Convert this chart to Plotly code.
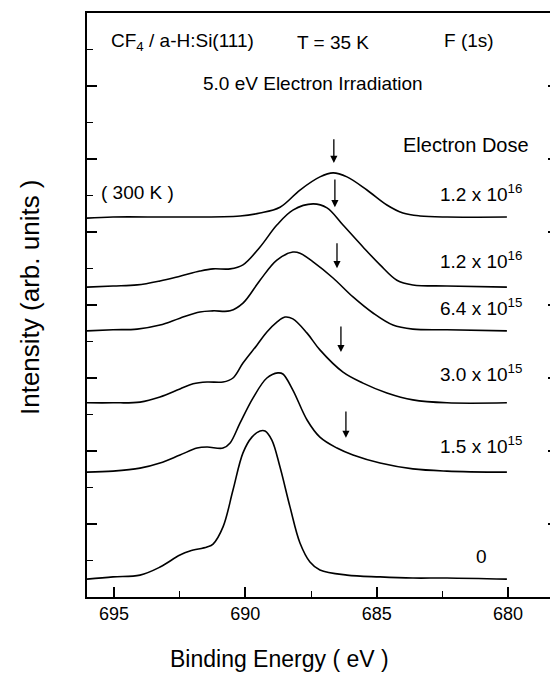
import plotly.graph_objects as go

# ---- data (binding energy in eV, intensity in arb. units, curves offset) ----
E_dose0 = [696.03, 695.04, 694.01, 693.25, 692.49, 692.11, 691.46, 691.23, 690.85, 690.47, 690.09,
           689.75, 689.44, 689.25, 688.99, 688.68, 688.30, 687.92, 687.54, 687.16, 686.13, 684.87,
           683.62, 682.32, 680.04]
I_dose0 = [0.49, 0.55, 0.60, 0.82, 1.15, 1.26, 1.37, 1.45, 1.92, 2.93, 3.95,
           4.38, 4.55, 4.55, 4.30, 3.56, 2.47, 1.48, 0.96, 0.74, 0.60, 0.55,
           0.52, 0.52, 0.49]

E_dose15a = [696.03, 695.04, 694.01, 693.25, 692.49, 691.84, 691.46, 690.85, 690.58, 690.20, 689.71,
             689.18, 688.76, 688.57, 688.19, 687.65, 687.16, 686.51, 685.90, 684.87, 683.62, 682.32, 680.04]
I_dose15a = [3.42, 3.45, 3.53, 3.67, 3.89, 4.08, 4.11, 4.08, 4.22, 4.77, 5.45,
             6.00, 6.14, 6.11, 5.67, 4.85, 4.38, 4.08, 3.89, 3.67, 3.51, 3.45, 3.42]

E_dose30 = [696.03, 695.04, 694.01, 693.25, 692.49, 691.99, 691.46, 690.85, 690.47, 690.09, 689.56,
            689.18, 688.80, 688.49, 688.19, 687.65, 687.16, 686.28, 685.52, 684.61, 683.62, 682.32, 680.04]
I_dose30 = [5.32, 5.32, 5.34, 5.48, 5.70, 5.84, 5.89, 5.89, 6.00, 6.41, 6.90,
            7.26, 7.53, 7.67, 7.62, 7.23, 6.77, 6.16, 5.86, 5.59, 5.40, 5.32, 5.32]

E_dose64 = [696.03, 695.04, 694.12, 693.25, 692.49, 691.73, 691.23, 690.58, 690.09, 689.44, 688.80,
            688.19, 687.92, 687.42, 686.66, 685.90, 685.14, 684.38, 683.62, 682.32, 680.04]
I_dose64 = [7.29, 7.32, 7.34, 7.45, 7.64, 7.81, 7.84, 7.84, 8.05, 8.68, 9.23,
            9.45, 9.42, 9.18, 8.74, 8.22, 7.78, 7.45, 7.34, 7.32, 7.29]

E_dose12 = [696.03, 695.04, 694.12, 693.25, 692.49, 691.73, 691.23, 690.58, 690.09, 689.44, 688.80,
            688.19, 687.42, 686.89, 686.28, 685.52, 684.87, 684.23, 683.62, 682.32, 680.04]
I_dose12 = [8.49, 8.52, 8.55, 8.66, 8.79, 8.93, 8.99, 8.99, 9.10, 9.59, 10.19,
            10.60, 10.77, 10.66, 10.19, 9.59, 9.10, 8.68, 8.55, 8.52, 8.49]

E_300K = [696.03, 695.04, 692.49, 690.20, 689.44, 688.68, 687.92, 687.16, 686.66, 686.13, 685.37,
          684.61, 684.00, 683.35, 682.32, 680.04]
I_300K = [10.38, 10.41, 10.41, 10.44, 10.52, 10.68, 11.15, 11.51, 11.62, 11.51, 11.15,
          10.74, 10.52, 10.44, 10.41, 10.41]

curves = [(E_dose0, I_dose0), (E_dose15a, I_dose15a), (E_dose30, I_dose30),
          (E_dose64, I_dose64), (E_dose12, I_dose12), (E_300K, I_300K)]

# dose labels (top to bottom) and their vertical positions
dose_labels = ["1.2 x 10<sup>16</sup>", "1.2 x 10<sup>16</sup>", "6.4 x 10<sup>15</sup>",
               "3.0 x 10<sup>15</sup>", "1.5 x 10<sup>15</sup>"]
dose_label_y = [11.07, 9.23, 7.95, 6.14, 4.16]
dose_label_E = 679.39

# arrows marking peak position
arrow_E = [686.63, 686.59, 686.51, 686.36, 686.17]
arrow_tail = [12.58, 11.48, 9.73, 7.45, 5.12]
arrow_tip = [11.89, 10.68, 9.01, 6.71, 4.36]

x_ticks = [695, 690, 685, 680]
y_range = [0, 16]

FONT = "Liberation Sans, Arial, sans-serif"

fig = go.Figure()
for E, I in curves:
    fig.add_trace(go.Scatter(x=E, y=I, mode="lines",
                             line=dict(color="black", width=1.6, shape="spline", smoothing=1.0),
                             showlegend=False, hoverinfo="skip"))
# empty trace so the right-hand tick axis is drawn
fig.add_trace(go.Scatter(x=[], y=[], yaxis="y2", showlegend=False, hoverinfo="skip"))

ann = []
for lab, yv in zip(dose_labels, dose_label_y):
    ann.append(dict(x=dose_label_E, y=yv, xref="x", yref="y", text=lab, showarrow=False,
                    xanchor="right", yanchor="middle", font=dict(size=19)))
ann.append(dict(x=680.99, y=1.10, xref="x", yref="y", text="0", showarrow=False,
                xanchor="center", yanchor="middle", font=dict(size=19)))
ann.append(dict(x=681.6, y=12.38, xref="x", yref="y", text="Electron Dose", showarrow=False,
                xanchor="center", yanchor="middle", font=dict(size=20)))
ann.append(dict(x=694.12, y=11.07, xref="x", yref="y", text="( 300 K )", showarrow=False,
                xanchor="center", yanchor="middle", font=dict(size=19)))

for xa, yt, yh in zip(arrow_E, arrow_tail, arrow_tip):
    ann.append(dict(x=xa, y=yh, ax=xa, ay=yt, xref="x", yref="y", axref="x", ayref="y",
                    text="", showarrow=True, arrowhead=2, arrowsize=1.1, arrowwidth=1.3,
                    arrowcolor="black", standoff=0, startstandoff=0))

ann.append(dict(x=0.2026, y=0.950, xref="paper", yref="paper", text="CF<sub>4</sub> / a-H:Si(111)",
                showarrow=False, xanchor="center", yanchor="middle", font=dict(size=19)))
ann.append(dict(x=0.5245, y=0.950, xref="paper", yref="paper", text="T = 35 K",
                showarrow=False, xanchor="center", yanchor="middle", font=dict(size=19)))
ann.append(dict(x=0.814, y=0.953, xref="paper", yref="paper", text="F (1s)",
                showarrow=False, xanchor="center", yanchor="middle", font=dict(size=19)))
ann.append(dict(x=0.482, y=0.880, xref="paper", yref="paper", text="5.0 eV Electron Irradiation",
                showarrow=False, xanchor="center", yanchor="middle", font=dict(size=19)))

# axis titles
ann.append(dict(x=0.4115, y=-0.107, xref="paper", yref="paper", text="Binding Energy ( eV )",
                showarrow=False, xanchor="center", yanchor="middle", font=dict(size=23)))
ann.append(dict(x=-0.1215, y=0.5137, xref="paper", yref="paper", text="Intensity (arb. units )",
                showarrow=False, xanchor="center", yanchor="middle", textangle=-90,
                font=dict(size=26)))

fig.update_layout(
    width=550, height=666,
    margin=dict(l=79, r=2, t=5, b=77),
    paper_bgcolor="white", plot_bgcolor="white",
    font=dict(family=FONT, color="black", size=19),
    annotations=ann,
    xaxis=dict(range=[696.03, 678.17], tickvals=x_ticks, ticktext=[str(v) for v in x_ticks],
               ticks="inside", ticklen=10, tickwidth=1.5, tickcolor="black",
               minor=dict(dtick=2.5, tick0=680, ticks="inside", ticklen=6, tickwidth=1.3, tickcolor="black"),
               showline=True, linecolor="black", linewidth=1.6, mirror=True,
               showgrid=False, zeroline=False, automargin=False,
               tickfont=dict(size=18)),
    yaxis=dict(range=y_range, dtick=2, tick0=0, showticklabels=False,
               ticks="inside", ticklen=10, tickwidth=1.5, tickcolor="black",
               minor=dict(dtick=1, tick0=0, ticks="inside", ticklen=6, tickwidth=1.3, tickcolor="black"),
               showline=True, linecolor="black", linewidth=1.6, mirror=True,
               showgrid=False, zeroline=False, automargin=False),
    yaxis2=dict(range=y_range, dtick=2, tick0=0, showticklabels=False, overlaying="y", side="right",
                anchor="x", ticks="inside", ticklen=8, tickwidth=1.5, tickcolor="black",
                minor=dict(dtick=1, tick0=0, ticks="inside", ticklen=5, tickwidth=1.3, tickcolor="black"),
                showline=False, showgrid=False, zeroline=False, automargin=False),
)

fig.write_html("out.html")
